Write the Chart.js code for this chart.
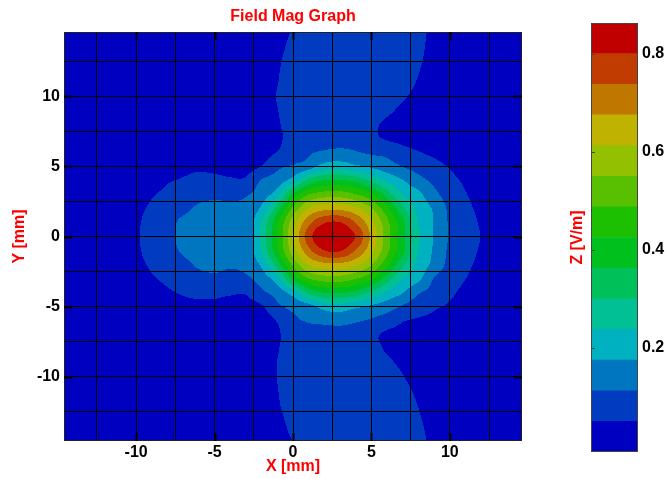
<!DOCTYPE html>
<html>
<head>
<meta charset="utf-8">
<title>Field Mag Graph</title>
<script src="https://cdn.jsdelivr.net/npm/chart.js@4.4.1/dist/chart.umd.min.js"></script>
<style>
  html, body { margin: 0; padding: 0; background: #fff; }
  #wrap { position: relative; width: 668px; height: 479px; }
  #fieldChart { position: absolute; left: 0; top: 0; }
  #scaleChart { position: absolute; left: 560px; top: 0; }
</style>
</head>
<body>
<div id="wrap">
  <canvas id="fieldChart" width="668" height="479"></canvas>
  <canvas id="scaleChart" width="108" height="479"></canvas>
</div>
<script>
// Sample grid (mm) of the field magnitude map
const xNodes = [-15, -14, -13, -12, -11, -10, -9, -8, -7, -6, -5, -4, -3, -2, -1, 0, 1, 2, 3, 4, 5, 6, 7, 8, 9, 10, 11, 12, 13, 14, 15];
const yNodes = [15, 14, 13, 12, 11, 10, 9, 8, 7, 6, 5, 4, 3, 2, 1, 0, -1, -2, -3, -4, -5, -6, -7, -8, -9, -10, -11, -12, -13, -14, -15];

// |E| in V/m, one row per yNodes entry (top to bottom), one column per xNodes entry
const fieldZ = [
  [0.006,0.006,0.006,0.006,0.006,0.006,0.006,0.006,0.006,0.006,0.006,0.006,0.006,0.006,0.022,0.053,0.088,0.088,0.088,0.088,0.088,0.088,0.088,0.067,0.036,0.006,0.006,0.006,0.006,0.006,0.006],
  [0.006,0.006,0.006,0.006,0.006,0.006,0.006,0.006,0.006,0.006,0.006,0.006,0.006,0.006,0.030,0.061,0.088,0.088,0.088,0.088,0.088,0.088,0.088,0.064,0.033,0.006,0.006,0.006,0.006,0.006,0.006],
  [0.006,0.006,0.006,0.006,0.006,0.006,0.006,0.006,0.006,0.006,0.006,0.006,0.006,0.006,0.038,0.069,0.088,0.088,0.088,0.088,0.088,0.088,0.088,0.061,0.029,0.006,0.006,0.006,0.006,0.006,0.006],
  [0.006,0.006,0.006,0.006,0.006,0.006,0.006,0.006,0.006,0.006,0.006,0.006,0.006,0.013,0.044,0.075,0.088,0.088,0.088,0.088,0.088,0.088,0.086,0.054,0.023,0.006,0.006,0.006,0.006,0.006,0.006],
  [0.006,0.006,0.006,0.006,0.006,0.006,0.006,0.006,0.006,0.006,0.006,0.006,0.006,0.017,0.048,0.079,0.088,0.088,0.088,0.088,0.088,0.088,0.075,0.044,0.013,0.006,0.006,0.006,0.006,0.006,0.006],
  [0.006,0.006,0.006,0.006,0.006,0.006,0.006,0.006,0.006,0.006,0.006,0.006,0.006,0.021,0.053,0.084,0.088,0.088,0.088,0.088,0.088,0.088,0.060,0.029,0.006,0.006,0.006,0.006,0.006,0.006,0.006],
  [0.006,0.006,0.006,0.006,0.006,0.006,0.006,0.006,0.006,0.006,0.006,0.006,0.006,0.016,0.048,0.079,0.088,0.088,0.088,0.088,0.088,0.065,0.034,0.013,0.006,0.006,0.006,0.006,0.006,0.006,0.006],
  [0.006,0.006,0.006,0.006,0.006,0.006,0.006,0.006,0.006,0.006,0.006,0.006,0.006,0.006,0.043,0.074,0.088,0.088,0.088,0.088,0.065,0.036,0.016,0.006,0.006,0.006,0.006,0.006,0.006,0.006,0.006],
  [0.006,0.006,0.006,0.006,0.006,0.006,0.006,0.006,0.006,0.006,0.006,0.006,0.006,0.008,0.039,0.069,0.084,0.088,0.091,0.091,0.064,0.044,0.033,0.022,0.006,0.006,0.006,0.006,0.006,0.006,0.006],
  [0.006,0.006,0.006,0.006,0.006,0.006,0.006,0.006,0.006,0.006,0.006,0.006,0.009,0.028,0.052,0.088,0.106,0.121,0.128,0.117,0.104,0.097,0.071,0.053,0.038,0.022,0.006,0.006,0.006,0.006,0.006],
  [0.006,0.006,0.006,0.006,0.006,0.006,0.006,0.009,0.031,0.039,0.033,0.026,0.031,0.051,0.100,0.120,0.145,0.203,0.213,0.188,0.166,0.140,0.111,0.089,0.068,0.045,0.016,0.006,0.006,0.006,0.006],
  [0.006,0.006,0.006,0.006,0.006,0.006,0.019,0.044,0.056,0.067,0.066,0.058,0.059,0.117,0.143,0.206,0.319,0.366,0.369,0.346,0.288,0.225,0.178,0.133,0.099,0.069,0.038,0.006,0.006,0.006,0.006],
  [0.006,0.006,0.006,0.006,0.006,0.013,0.044,0.064,0.080,0.094,0.099,0.094,0.106,0.144,0.213,0.381,0.484,0.519,0.522,0.491,0.436,0.334,0.238,0.191,0.128,0.087,0.054,0.023,0.006,0.006,0.006],
  [0.006,0.006,0.006,0.006,0.006,0.033,0.061,0.086,0.100,0.121,0.131,0.128,0.131,0.188,0.331,0.502,0.616,0.656,0.659,0.627,0.554,0.441,0.314,0.218,0.166,0.099,0.066,0.034,0.006,0.006,0.006],
  [0.006,0.006,0.006,0.006,0.009,0.041,0.069,0.095,0.123,0.134,0.138,0.134,0.131,0.246,0.416,0.583,0.719,0.795,0.802,0.735,0.631,0.504,0.378,0.233,0.169,0.105,0.074,0.043,0.011,0.006,0.006],
  [0.006,0.006,0.006,0.006,0.013,0.043,0.071,0.098,0.126,0.134,0.138,0.134,0.125,0.256,0.423,0.606,0.773,0.856,0.855,0.795,0.661,0.513,0.378,0.248,0.171,0.107,0.078,0.048,0.017,0.006,0.006],
  [0.006,0.006,0.006,0.006,0.009,0.041,0.068,0.093,0.119,0.134,0.138,0.134,0.131,0.246,0.416,0.583,0.719,0.799,0.806,0.735,0.631,0.504,0.378,0.233,0.166,0.101,0.072,0.043,0.011,0.006,0.006],
  [0.006,0.006,0.006,0.006,0.006,0.033,0.059,0.084,0.099,0.120,0.130,0.121,0.131,0.188,0.331,0.502,0.616,0.656,0.659,0.627,0.554,0.441,0.314,0.218,0.156,0.093,0.064,0.034,0.006,0.006,0.006],
  [0.006,0.006,0.006,0.006,0.006,0.013,0.043,0.063,0.079,0.093,0.099,0.089,0.100,0.141,0.213,0.381,0.484,0.519,0.522,0.491,0.436,0.334,0.238,0.191,0.109,0.080,0.051,0.019,0.006,0.006,0.006],
  [0.006,0.006,0.006,0.006,0.006,0.006,0.019,0.041,0.056,0.064,0.064,0.057,0.056,0.100,0.138,0.206,0.319,0.366,0.369,0.346,0.288,0.225,0.178,0.119,0.092,0.063,0.032,0.006,0.006,0.006,0.006],
  [0.006,0.006,0.006,0.006,0.006,0.006,0.006,0.009,0.030,0.034,0.034,0.026,0.030,0.044,0.100,0.129,0.150,0.203,0.213,0.188,0.166,0.141,0.106,0.078,0.058,0.041,0.013,0.006,0.006,0.006,0.006],
  [0.006,0.006,0.006,0.006,0.006,0.006,0.006,0.006,0.006,0.006,0.006,0.006,0.006,0.023,0.054,0.100,0.118,0.128,0.133,0.119,0.105,0.084,0.054,0.043,0.034,0.013,0.006,0.006,0.006,0.006,0.006],
  [0.006,0.006,0.006,0.006,0.006,0.006,0.006,0.006,0.006,0.006,0.006,0.006,0.006,0.011,0.043,0.073,0.088,0.088,0.089,0.088,0.064,0.039,0.031,0.013,0.006,0.006,0.006,0.006,0.006,0.006,0.006],
  [0.006,0.006,0.006,0.006,0.006,0.006,0.006,0.006,0.006,0.006,0.006,0.006,0.006,0.015,0.046,0.078,0.088,0.088,0.088,0.088,0.073,0.041,0.019,0.006,0.006,0.006,0.006,0.006,0.006,0.006,0.006],
  [0.006,0.006,0.006,0.006,0.006,0.006,0.006,0.006,0.006,0.006,0.006,0.006,0.006,0.019,0.051,0.081,0.088,0.088,0.088,0.088,0.088,0.064,0.033,0.009,0.006,0.006,0.006,0.006,0.006,0.006,0.006],
  [0.006,0.006,0.006,0.006,0.006,0.006,0.006,0.006,0.006,0.006,0.006,0.006,0.006,0.019,0.051,0.082,0.088,0.088,0.088,0.088,0.088,0.088,0.053,0.022,0.006,0.006,0.006,0.006,0.006,0.006,0.006],
  [0.006,0.006,0.006,0.006,0.006,0.006,0.006,0.006,0.006,0.006,0.006,0.006,0.006,0.017,0.048,0.079,0.088,0.088,0.088,0.088,0.088,0.088,0.068,0.036,0.006,0.006,0.006,0.006,0.006,0.006,0.006],
  [0.006,0.006,0.006,0.006,0.006,0.006,0.006,0.006,0.006,0.006,0.006,0.006,0.006,0.013,0.044,0.075,0.088,0.088,0.088,0.088,0.088,0.088,0.079,0.048,0.016,0.006,0.006,0.006,0.006,0.006,0.006],
  [0.006,0.006,0.006,0.006,0.006,0.006,0.006,0.006,0.006,0.006,0.006,0.006,0.006,0.006,0.036,0.067,0.088,0.088,0.088,0.088,0.088,0.088,0.088,0.056,0.025,0.006,0.006,0.006,0.006,0.006,0.006],
  [0.006,0.006,0.006,0.006,0.006,0.006,0.006,0.006,0.006,0.006,0.006,0.006,0.006,0.006,0.028,0.059,0.088,0.088,0.088,0.088,0.088,0.088,0.088,0.063,0.032,0.006,0.006,0.006,0.006,0.006,0.006],
  [0.006,0.006,0.006,0.006,0.006,0.006,0.006,0.006,0.006,0.006,0.006,0.006,0.006,0.006,0.018,0.048,0.088,0.088,0.088,0.088,0.088,0.088,0.088,0.066,0.035,0.006,0.006,0.006,0.006,0.006,0.006]
];

// Contour levels (V/m) and the colour of each band between them
const zEdges = [-0.0125, 0.05, 0.1125, 0.175, 0.2375, 0.3, 0.3625, 0.425, 0.4875, 0.55, 0.6125, 0.675, 0.7375, 0.8, 0.8625];
const bandColors = ['#0000c0', '#003bc0', '#0076c0', '#00b1c0', '#00c094', '#00c059', '#00c01e',
                    '#1dc000', '#58c000', '#93c000', '#c0b200', '#c07700', '#c03c00', '#c00000'];

const gridTicks = [-12.5, -10, -7.5, -5, -2.5, 0, 2.5, 5, 7.5, 10, 12.5];
const axisLabels = [-10, -5, 0, 5, 10];
const barTicks = [0.2, 0.4, 0.6, 0.8];

const FONT = "'Liberation Sans', Arial, Helvetica, sans-serif";
const boldFont = { family: FONT, size: 16, weight: 'bold' };
const RED = '#ff0000';

const bandRgb = bandColors.map(hex => [
  parseInt(hex.slice(1, 3), 16), parseInt(hex.slice(3, 5), 16), parseInt(hex.slice(5, 7), 16)
]);

// Catmull-Rom weights for a fractional offset t inside a grid cell
function splineWeights(t) {
  const t2 = t * t, t3 = t2 * t;
  return [(-t + 2 * t2 - t3) / 2, (2 - 5 * t2 + 3 * t3) / 2, (t + 4 * t2 - 3 * t3) / 2, (t3 - t2) / 2];
}

function nodeValue(j, i) {
  const jj = Math.min(Math.max(j, 0), yNodes.length - 1);
  const ii = Math.min(Math.max(i, 0), xNodes.length - 1);
  return fieldZ[jj][ii];
}

// smooth lookup in the sample grid
function sampleField(x, y) {
  const fx = (x - xNodes[0]) / (xNodes[1] - xNodes[0]);
  const fy = (yNodes[0] - y) / (yNodes[0] - yNodes[1]);
  const i = Math.floor(fx), j = Math.floor(fy);
  const wx = splineWeights(fx - i), wy = splineWeights(fy - j);
  let z = 0;
  for (let m = 0; m < 4; m++) {
    let row = 0;
    for (let n = 0; n < 4; n++) row += wx[n] * nodeValue(j - 1 + m, i - 1 + n);
    z += wy[m] * row;
  }
  return z;
}

function bandOf(z) {
  let k = 0;
  while (k < bandColors.length - 1 && z >= zEdges[k + 1]) k++;
  return k;
}

// filled contour bands, painted under the grid lines
const contourFill = {
  id: 'contourFill',
  beforeDatasetsDraw(chart) {
    const { ctx, chartArea: area, scales } = chart;
    const w = Math.round(area.right - area.left);
    const h = Math.round(area.bottom - area.top);
    const layer = document.createElement('canvas');
    layer.width = w;
    layer.height = h;
    const lctx = layer.getContext('2d');
    const img = lctx.createImageData(w, h);
    const xs = [], ys = [];
    for (let i = 0; i < w; i++) xs.push(scales.x.getValueForPixel(area.left + i + 0.5));
    for (let j = 0; j < h; j++) ys.push(scales.y.getValueForPixel(area.top + j + 0.5));
    let p = 0;
    for (let j = 0; j < h; j++) {
      for (let i = 0; i < w; i++) {
        const c = bandRgb[bandOf(sampleField(xs[i], ys[j]))];
        img.data[p++] = c[0];
        img.data[p++] = c[1];
        img.data[p++] = c[2];
        img.data[p++] = 255;
      }
    }
    lctx.putImageData(img, 0, 0);
    ctx.drawImage(layer, area.left, area.top, w, h);
  }
};

// plot frame and the short inward ticks at the labelled values
const plotFrame = {
  id: 'plotFrame',
  afterDraw(chart) {
    const { ctx, chartArea: a, scales } = chart;
    ctx.save();
    ctx.strokeStyle = '#222';
    ctx.lineWidth = 1;
    ctx.strokeRect(a.left + 0.5, a.top + 0.5, a.right - a.left - 1, a.bottom - a.top - 1);
    ctx.strokeStyle = '#000';
    ctx.lineWidth = 2;
    ctx.beginPath();
    axisLabels.forEach(v => {
      const px = Math.round(scales.x.getPixelForValue(v)) + 0.5;
      const py = Math.round(scales.y.getPixelForValue(v)) + 0.5;
      ctx.moveTo(px, a.bottom); ctx.lineTo(px, a.bottom - 8);
      ctx.moveTo(px, a.top); ctx.lineTo(px, a.top + 8);
      ctx.moveTo(a.left, py); ctx.lineTo(a.left + 8, py);
      ctx.moveTo(a.right, py); ctx.lineTo(a.right - 8, py);
    });
    ctx.stroke();
    ctx.restore();
  }
};

function plotAxis(label, isX) {
  return {
    type: 'linear',
    min: -14.6,
    max: 14.6,
    afterBuildTicks: axis => { axis.ticks = gridTicks.map(v => ({ value: v })); },
    afterFit: axis => { if (isX) axis.height = 38; else axis.width = 64; },
    ticks: {
      autoSkip: false,
      maxRotation: 0,
      padding: isX ? 2 : 4,
      color: '#000',
      font: boldFont,
      callback: v => axisLabels.includes(v) ? String(v) : ''
    },
    grid: { color: '#000', lineWidth: 1, drawTicks: false, z: 1 },
    border: { display: false },
    title: {
      display: true,
      text: label,
      color: RED,
      font: boldFont,
      padding: isX ? { top: 0, bottom: 2.4 } : { top: 10.4, bottom: 0 }
    }
  };
}

new Chart(document.getElementById('fieldChart'), {
  type: 'scatter',
  data: { datasets: [] },
  options: {
    responsive: false,
    animation: false,
    layout: { padding: { left: 0, right: 146, top: 0, bottom: 0 } },
    plugins: {
      legend: { display: false },
      tooltip: { enabled: false },
      title: {
        display: true,
        text: 'Field Mag Graph',
        color: RED,
        font: boldFont,
        fullSize: false,
        padding: { top: 7, bottom: 5.8 }
      }
    },
    scales: {
      x: plotAxis('X [mm]', true),
      y: plotAxis('Y [mm]', false)
    }
  },
  plugins: [contourFill, plotFrame]
});

// colour bar: one floating bar per contour band
const barFrame = {
  id: 'barFrame',
  afterDraw(chart) {
    const { ctx, chartArea: a, scales } = chart;
    ctx.save();
    ctx.strokeStyle = '#444';
    ctx.lineWidth = 1;
    ctx.strokeRect(a.left + 0.5, a.top + 0.5, a.right - a.left - 1, a.bottom - a.top - 1);
    ctx.beginPath();
    barTicks.forEach(v => {
      const py = Math.round(scales.y.getPixelForValue(v)) + 0.5;
      ctx.moveTo(a.left, py); ctx.lineTo(a.left + 4, py);
    });
    ctx.stroke();
    ctx.restore();
  }
};

new Chart(document.getElementById('scaleChart'), {
  type: 'bar',
  data: {
    labels: [''],
    datasets: bandColors.map((color, k) => ({
      data: [[zEdges[k], zEdges[k + 1]]],
      backgroundColor: color,
      borderWidth: 0,
      grouped: false,
      barPercentage: 1,
      categoryPercentage: 1
    }))
  },
  options: {
    responsive: false,
    animation: false,
    layout: { padding: { left: 0, right: 0, top: 23, bottom: 27 } },
    plugins: { legend: { display: false }, tooltip: { enabled: false } },
    scales: {
      x: { display: false },
      y: {
        position: 'right',
        min: zEdges[0],
        max: zEdges[zEdges.length - 1],
        afterBuildTicks: axis => { axis.ticks = barTicks.map(v => ({ value: v })); },
        afterFit: axis => { axis.width = 30; },
        ticks: { padding: 4, color: '#000', font: boldFont, callback: v => v.toFixed(1) },
        grid: { display: false, drawTicks: false },
        border: { display: false }
      },
      yTitle: {
        type: 'linear',
        position: 'left',
        min: zEdges[0],
        max: zEdges[zEdges.length - 1],
        afterFit: axis => { axis.width = 31; },
        ticks: { display: false },
        grid: { display: false, drawTicks: false },
        border: { display: false },
        title: { display: true, text: 'Z [V/m]', color: RED, font: boldFont, padding: { top: 8.4, bottom: 0 } }
      }
    }
  },
  plugins: [barFrame]
});
</script>
</body>
</html>
